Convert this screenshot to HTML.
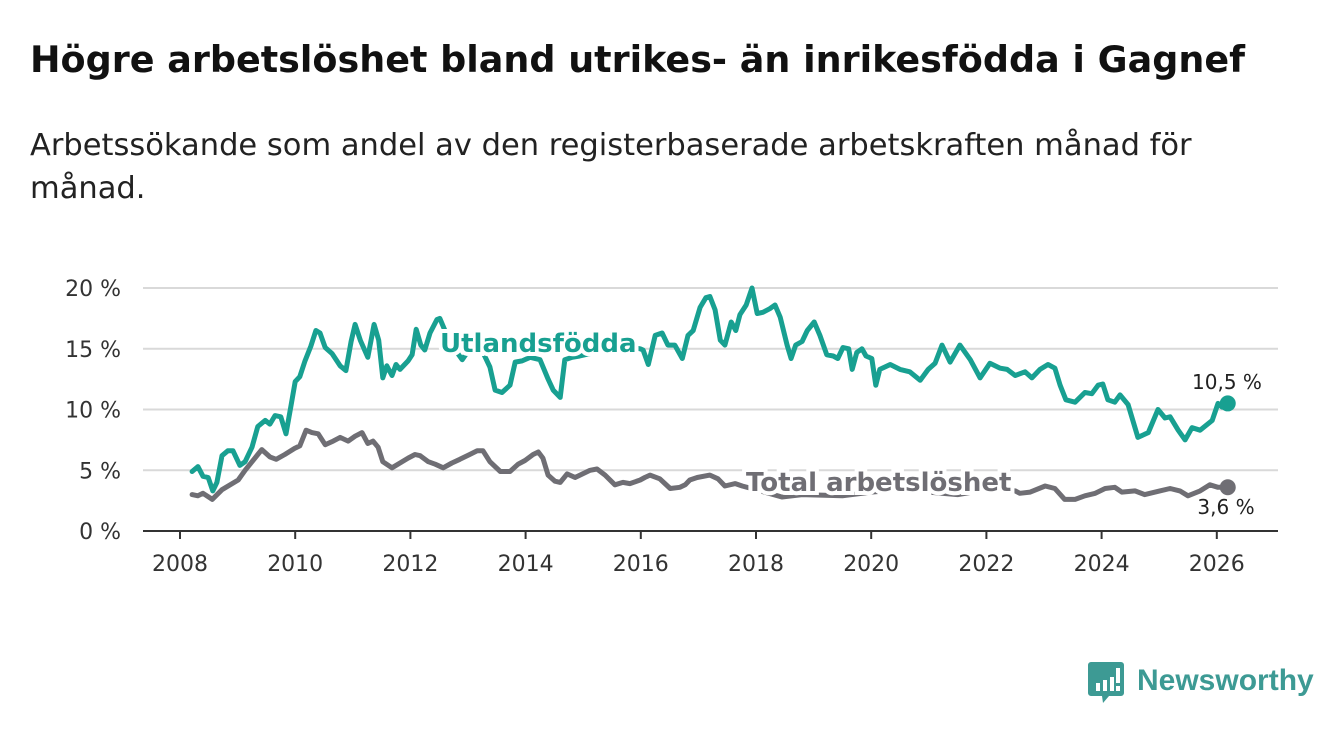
<!DOCTYPE html>
<html><head><meta charset="utf-8">
<style>
body{margin:0;background:#fff;width:1340px;height:734px;overflow:hidden;font-family:"Liberation Sans",sans-serif;}
svg text{font-family:"DejaVu Sans","Liberation Sans",sans-serif;}
</style></head>
<body>
<svg width="1340" height="734" viewBox="0 0 1340 734">
<text x="30" y="72" font-size="36.5" font-weight="bold" fill="#111">Högre arbetslöshet bland utrikes- än inrikesfödda i Gagnef</text>
<text x="30" y="155" font-size="30.5" fill="#222">Arbetssökande som andel av den registerbaserade arbetskraften månad för</text>
<text x="30" y="198" font-size="30.5" fill="#222">månad.</text>
<g id="grid"></g>
<g id="yticks"></g>
<g id="xticks"></g>
<g id="series"></g>
<g>
<path d="M1091 662 h30 a3 3 0 0 1 3 3 v28 a3 3 0 0 1 -3 3 h-12 l-6 7 l-1 -7 h-11 a3 3 0 0 1 -3 -3 v-28 a3 3 0 0 1 3 -3z" fill="#3d9a94"/>
<rect x="1096" y="683" width="4" height="8" fill="#fff"/><rect x="1103" y="680" width="4" height="11" fill="#fff"/><rect x="1110" y="677" width="4" height="14" fill="#fff"/><rect x="1116" y="668" width="4" height="15" fill="#fff"/><rect x="1116" y="686" width="4" height="5" fill="#fff"/>
<text x="1137" y="690" font-size="30" font-weight="bold" fill="#3d9a94" style="font-family:'Liberation Sans',sans-serif">Newsworthy</text>
</g>
</svg>
<script>
const yTicks=[0,5,10,15,20];
const yTickLabels=["0 %","5 %","10 %","15 %","20 %"];
const xTicks=[2008,2010,2012,2014,2016,2018,2020,2022,2024,2026];
const foreignYears=[0.21,0.31,0.40,0.49,0.57,0.64,0.73,0.83,0.92,1.04,1.13,1.25,1.35,1.48,1.56,1.65,1.75,1.84,1.93,2.00,2.08,2.17,2.27,2.36,2.43,2.52,2.64,2.78,2.88,2.97,3.04,3.13,3.26,3.37,3.45,3.52,3.59,3.68,3.75,3.82,3.96,4.03,4.10,4.18,4.25,4.34,4.46,4.51,4.69,4.90,5.03,5.21,5.38,5.47,5.59,5.73,5.82,5.94,6.08,6.25,6.39,6.48,6.60,6.68,6.81,6.94,7.12,7.29,7.50,7.73,7.99,8.04,8.13,8.25,8.37,8.47,8.59,8.72,8.82,8.91,9.03,9.13,9.20,9.29,9.38,9.46,9.57,9.65,9.72,9.83,9.93,10.02,10.12,10.24,10.33,10.42,10.54,10.61,10.69,10.80,10.89,11.01,11.11,11.23,11.34,11.42,11.51,11.61,11.67,11.75,11.84,11.91,12.01,12.08,12.15,12.33,12.50,12.67,12.85,12.99,13.11,13.23,13.37,13.54,13.72,13.89,14.06,14.24,14.36,14.50,14.67,14.79,14.93,15.07,15.19,15.28,15.38,15.54,15.71,15.83,15.94,16.02,16.11,16.23,16.32,16.46,16.63,16.81,16.98,17.10,17.19,17.33,17.45,17.57,17.71,17.92,18.02,18.09,18.19];
const foreignValues=[4.9,5.3,4.5,4.4,3.3,4.0,6.2,6.6,6.6,5.4,5.7,6.9,8.6,9.1,8.8,9.5,9.4,8.0,10.4,12.3,12.7,14.0,15.2,16.5,16.3,15.1,14.6,13.6,13.2,15.6,17.0,15.7,14.3,17.0,15.7,12.6,13.6,12.8,13.7,13.3,14.0,14.5,16.6,15.3,14.9,16.3,17.4,17.5,15.5,14.1,15.0,15.2,13.5,11.6,11.4,12.0,13.9,14.0,14.3,14.1,12.5,11.6,11.0,14.1,14.3,14.4,14.6,14.8,15.0,15.2,15.0,14.9,13.7,16.1,16.3,15.3,15.3,14.2,16.1,16.5,18.4,19.2,19.3,18.2,15.7,15.3,17.2,16.5,17.8,18.6,20.0,17.9,18.0,18.3,18.6,17.6,15.3,14.2,15.3,15.6,16.5,17.2,16.1,14.5,14.4,14.2,15.1,15.0,13.3,14.7,15.0,14.4,14.2,12.0,13.3,13.7,13.3,13.1,12.4,13.3,13.8,15.3,13.9,15.3,14.1,12.6,13.8,13.4,13.3,12.8,13.1,12.6,13.3,13.7,13.4,12.0,10.8,10.6,11.4,11.3,12.0,12.1,10.8,10.6,11.2,10.4,7.7,8.1,10.0,9.3,9.4,8.3,7.5,8.5,8.3,9.1,10.5,10.2,10.5];
const totalYears=[0.21,0.31,0.40,0.56,0.73,1.01,1.13,1.35,1.42,1.56,1.67,1.82,1.99,2.08,2.19,2.29,2.40,2.52,2.66,2.78,2.92,3.04,3.16,3.26,3.35,3.44,3.52,3.68,3.82,3.96,4.08,4.17,4.31,4.43,4.57,4.72,4.86,5.03,5.16,5.26,5.38,5.56,5.73,5.87,5.99,6.13,6.22,6.30,6.39,6.51,6.60,6.72,6.86,7.12,7.24,7.38,7.55,7.69,7.81,7.99,8.07,8.16,8.33,8.51,8.68,8.77,8.85,8.98,9.20,9.34,9.46,9.64,9.76,10.0,10.45,10.8,11.5,12.0,12.5,13.0,13.5,14.0,14.5,14.58,14.76,15.02,15.19,15.36,15.54,15.71,15.89,16.06,16.23,16.35,16.58,16.75,17.01,17.19,17.36,17.50,17.71,17.88,18.02,18.19];
const totalValues=[3.0,2.9,3.1,2.6,3.4,4.2,5.0,6.3,6.7,6.1,5.9,6.3,6.8,7.0,8.3,8.1,8.0,7.1,7.4,7.7,7.4,7.8,8.1,7.2,7.4,6.9,5.7,5.2,5.6,6.0,6.3,6.2,5.7,5.5,5.2,5.6,5.9,6.3,6.6,6.6,5.7,4.9,4.9,5.5,5.8,6.3,6.5,6.0,4.6,4.1,4.0,4.7,4.4,5.0,5.1,4.6,3.8,4.0,3.9,4.2,4.4,4.6,4.3,3.5,3.6,3.8,4.2,4.4,4.6,4.3,3.7,3.9,3.7,3.4,2.8,3.0,2.9,3.2,3.4,3.2,3.0,3.4,3.3,3.1,3.2,3.7,3.5,2.6,2.6,2.9,3.1,3.5,3.6,3.2,3.3,3.0,3.3,3.5,3.3,2.9,3.3,3.8,3.6,3.6];
const lastLabels=["10,5 %","3,6 %"];

const NS="http://www.w3.org/2000/svg";
const X0=143,X1=1278,Y0=531;
const xs=t=>180+(t-2008)*57.6;
const ys=v=>Y0-v*12.15;
function mk(tag,attrs,parent){const e=document.createElementNS(NS,tag);for(const k in attrs)e.setAttribute(k,attrs[k]);parent.appendChild(e);return e;}
const grid=document.getElementById('grid'),yt=document.getElementById('yticks'),xt=document.getElementById('xticks'),ser=document.getElementById('series');
yTicks.forEach((v,i)=>{
  if(v>0){const l=mk('line',{x1:X0,x2:X1,y1:ys(v),y2:ys(v),stroke:'#d9d9d9','stroke-width':2},grid);
  
  }
  const t=mk('text',{x:121,y:ys(v)+8,'font-size':22,fill:'#333','text-anchor':'end'},yt);
  t.textContent=yTickLabels[i];
  
  
});
const ax=mk('line',{x1:X0,x2:X1,y1:Y0,y2:Y0,stroke:'#333','stroke-width':2},xt);


xTicks.forEach(y=>{
  const tk=mk('line',{x1:xs(y),x2:xs(y),y1:Y0,y2:Y0+8,stroke:'#333','stroke-width':2},xt);
  
  
  const t=mk('text',{x:xs(y),y:571,'font-size':22,fill:'#333','text-anchor':'middle'},xt);
  t.textContent=y;
  
  
});
function line(yrs,vals,color,name){
  const d=yrs.map((t,i)=>(i?'L':'M')+xs(2008+t).toFixed(1)+' '+ys(vals[i]).toFixed(1)).join(' ');
  const p=mk('path',{d:d,fill:'none',stroke:color,'stroke-width':5,'stroke-linejoin':'round','stroke-linecap':'round'},ser);
  
  
  const n=yrs.length-1;
  const c=mk('circle',{cx:xs(2008+yrs[n]),cy:ys(vals[n]),r:8,fill:color},ser);
  
  
}
line(totalYears,totalValues,'#6f6e74','total-line');
line(foreignYears,foreignValues,'#18a091','foreign-born-line');
function lbl(x,y,txt,color,size,weight,name,anchor){
  const t=mk('text',{x:x,y:y,'font-size':size,'font-weight':weight,fill:color,stroke:'#fff','stroke-width':weight==='bold'?8:0,'paint-order':'stroke','text-anchor':anchor||'start'},ser);
  t.textContent=txt;
  
  
}
lbl(440,352,'Utlandsfödda','#18a091',26,'bold','foreign-born-label');
lbl(746,491,'Total arbetslöshet','#6f6e74',26,'bold','total-label');
lbl(1227,389,lastLabels[0],'#222',20,'normal','foreign-born-last-value','middle');
lbl(1226,514,lastLabels[1],'#222',20,'normal','total-last-value','middle');
</script>
</body></html>
